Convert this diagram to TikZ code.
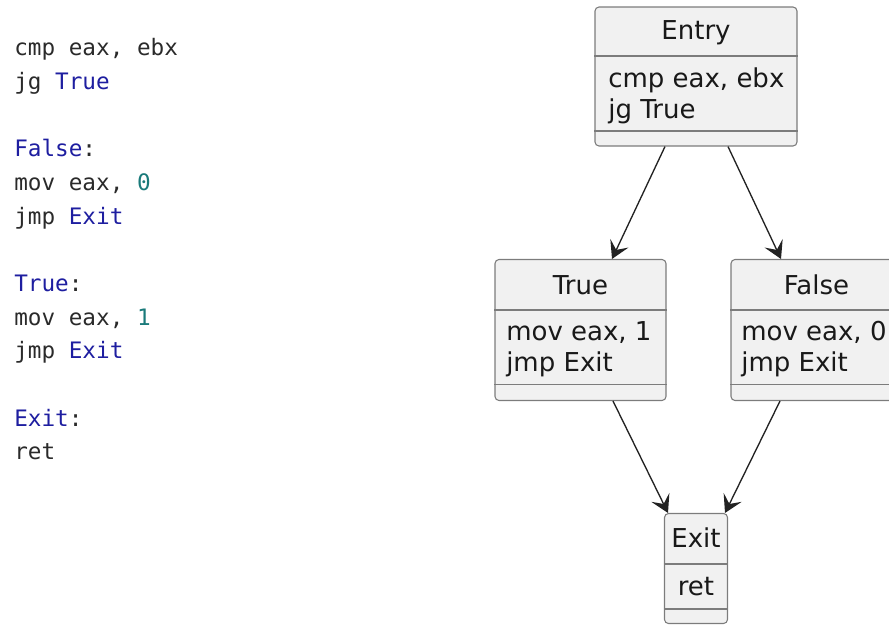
\documentclass[tikz,border=0pt]{standalone}
\usepackage{fontspec}
\setmainfont{DejaVu Sans}
\setmonofont{DejaVu Sans Mono}
\usetikzlibrary{arrows.meta,calc}
\definecolor{boxfill}{HTML}{F1F1F1}
\definecolor{boxline}{HTML}{7C7C7C}
\definecolor{edgecol}{HTML}{222222}
\definecolor{codetext}{HTML}{2A2A2A}
\definecolor{codelabel}{HTML}{1E1EA0}
\definecolor{codenum}{HTML}{1A7A7A}
\tikzset{
  block/.style={draw=boxline, fill=boxfill, line width=0.8pt, rounded corners=3pt, inner sep=0pt},
  sepline/.style={draw=boxline, line width=0.8pt},
  title/.style={anchor=base, inner sep=0pt, font=\fontsize{19.5}{22}\selectfont, text=black!90},
  body/.style={anchor=base west, inner sep=0pt, font=\fontsize{19.5}{22}\selectfont, text=black!90},
  codeline/.style={anchor=base west, inner sep=0pt, font=\ttfamily\fontsize{17}{20}\selectfont, text=codetext},
  flow/.style={draw=edgecol, line width=1pt, -{Stealth[length=13pt,width=15pt,inset=5.5pt]}}
}
\newcommand{\lbl}[1]{\textcolor{codelabel}{#1}}
\newcommand{\num}[1]{\textcolor{codenum}{#1}}
\begin{document}
\begin{tikzpicture}[x=0.75pt, y=-0.75pt]
  \useasboundingbox (0,0) rectangle (889,625);
  \clip (0,0) rectangle (889,625);

  % assembly listing
  \node[codeline] (c1)  at (14,55.5)  {cmp eax, ebx};
  \node[codeline] (c2)  at (14,89.2)  {jg \lbl{True}};
  \node[codeline] (c3)  at (14,156.6) {\lbl{False}:};
  \node[codeline] (c4)  at (14,190.3) {mov eax, \num{0}};
  \node[codeline] (c5)  at (14,224)   {jmp \lbl{Exit}};
  \node[codeline] (c6)  at (14,291.4) {\lbl{True}:};
  \node[codeline] (c7)  at (14,325.1) {mov eax, \num{1}};
  \node[codeline] (c8)  at (14,358.8) {jmp \lbl{Exit}};
  \node[codeline] (c9)  at (14,426.2) {\lbl{Exit}:};
  \node[codeline] (c10) at (14,459.9) {ret};

  % basic blocks
  \node[block, minimum width=151.5pt, minimum height=104.25pt] (entry) at (696,76.5) {};
  \node[block, minimum width=128.25pt, minimum height=105.75pt] (true)  at (580.5,330) {};
  \node[block, minimum width=128.25pt, minimum height=105.75pt] (false) at (816.5,330) {};
  \node[block, minimum width=47.25pt,  minimum height=82.5pt]   (exit)  at (696,568.5) {};

  % compartment separators
  \draw[sepline] ($(entry.north west)+(0,49.5)$) -- ($(entry.north east)+(0,49.5)$);
  \draw[sepline] ($(entry.north west)+(0,124.5)$) -- ($(entry.north east)+(0,124.5)$);
  \draw[sepline] ($(true.north west)+(0,51)$) -- ($(true.north east)+(0,51)$);
  \draw[sepline] ($(true.north west)+(0,125.5)$) -- ($(true.north east)+(0,125.5)$);
  \draw[sepline] ($(false.north west)+(0,51)$) -- ($(false.north east)+(0,51)$);
  \draw[sepline] ($(false.north west)+(0,125.5)$) -- ($(false.north east)+(0,125.5)$);
  \draw[sepline] ($(exit.north west)+(0,51)$) -- ($(exit.north east)+(0,51)$);
  \draw[sepline] ($(exit.north west)+(0,96)$) -- ($(exit.north east)+(0,96)$);

  % block contents
  \node[title] (entryT) at (696,39.5) {Entry};
  \node[body]  (entryA) at (608,87)   {cmp eax, ebx};
  \node[body]  (entryB) at (608,118)  {jg True};

  \node[title] (trueT) at (580.5,294) {True};
  \node[body]  (trueA) at (506,340.5) {mov eax, 1};
  \node[body]  (trueB) at (506,371.5) {jmp Exit};

  \node[title] (falseT) at (816.5,294) {False};
  \node[body]  (falseA) at (741,340.5) {mov eax, 0};
  \node[body]  (falseB) at (741,371.5) {jmp Exit};

  \node[title] (exitT) at (696,547.5) {Exit};
  \node[title] (exitB) at (696,595)   {ret};

  % control-flow edges
  \draw[flow] ($(entry.south)+(-31,0)$) -- ($(true.north)+(31.5,0)$);
  \draw[flow] ($(entry.south)+(32,0)$) -- ($(false.north)+(-35.5,0)$);
  \draw[flow] ($(true.south)+(32.5,0)$) -- ($(exit.north)+(-28,0)$);
  \draw[flow] ($(false.south)+(-36.5,0)$) -- ($(exit.north)+(29,0)$);
\end{tikzpicture}
\end{document}
